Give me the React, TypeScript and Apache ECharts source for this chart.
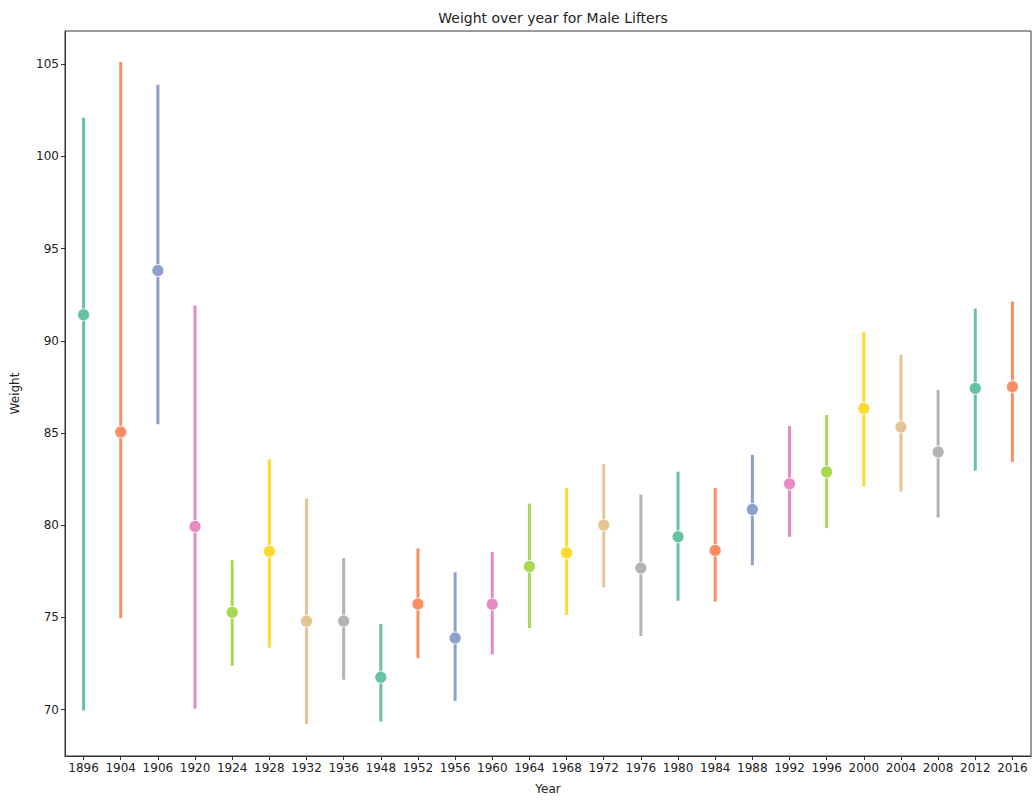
import React, { useEffect, useRef } from "react";
import * as echarts from "echarts";

const years = ["1896","1904","1906","1920","1924","1928","1932","1936","1948","1952","1956","1960","1964","1968","1972","1976","1980","1984","1988","1992","1996","2000","2004","2008","2012","2016"];
const means = [91.41,85.05,93.81,79.93,75.27,78.58,74.79,74.8,71.75,75.72,73.88,75.71,77.76,78.5,80.0,77.67,79.37,78.63,80.85,82.24,82.89,86.33,85.32,83.97,87.42,87.51];
const lows = [69.95,74.95,85.47,70.04,72.37,73.36,69.21,71.62,69.35,72.78,70.47,72.98,74.42,75.14,76.63,73.99,75.9,75.85,77.83,79.37,79.84,82.1,81.82,80.42,82.96,83.43];
const highs = [102.1,105.12,103.89,91.91,78.1,83.57,81.44,78.21,74.64,78.74,77.44,78.54,81.17,82.02,83.32,81.66,82.9,82.02,83.81,85.38,85.97,90.49,89.24,87.33,91.75,92.13];
const yTicks = [70, 75, 80, 85, 90, 95, 100, 105];
const palette = ["#66c2a5","#fc8d62","#8da0cb","#e78ac3","#a6d854","#ffd92f","#e5c494","#b3b3b3"];

export default function App() {
  const ref = useRef<HTMLDivElement>(null);
  useEffect(() => {
    const chart = echarts.init(ref.current!, null, { renderer: "svg" });
    const data = years.map((_, i) => [i, lows[i], highs[i], means[i]]);
    const font = "DejaVu Sans";
    chart.setOption({
      animation: false,
      backgroundColor: "#fff",
      title: {
        text: "Weight over year for Male Lifters",
        left: 548,
        textAlign: "center",
        top: 6,
        textStyle: { fontFamily: font, fontSize: 14, fontWeight: "normal", color: "#222" },
      },
      grid: { left: 65, right: 2, top: 31, bottom: 43, show: true, borderColor: "#333", borderWidth: 1, containLabel: false },
      xAxis: {
        type: "category",
        data: years,
        boundaryGap: true,
        name: "Year",
        nameLocation: "middle",
        nameGap: 27,
        nameTextStyle: { fontFamily: font, fontSize: 12, color: "#222" },
        axisLine: { show: true, lineStyle: { color: "#333", width: 1 } },
        axisTick: { show: true, alignWithLabel: true, length: 4, lineStyle: { color: "#333" } },
        axisLabel: { fontFamily: font, fontSize: 12, color: "#222", margin: 6, interval: 0 },
        splitLine: { show: false },
      },
      yAxis: {
        type: "value",
        min: 67.48,
        max: 106.8,
        name: "Weight",
        nameLocation: "middle",
        nameGap: 44,
        nameTextStyle: { fontFamily: font, fontSize: 12, color: "#222" },
        axisLine: { show: true, lineStyle: { color: "#333", width: 1 } },
        axisTick: { show: true, length: 4, lineStyle: { color: "#333" }, customValues: yTicks },
        axisLabel: { fontFamily: font, fontSize: 12, color: "#222", margin: 6, customValues: yTicks },
        splitLine: { show: false },
      },
      series: [
        {
          type: "custom",
          data,
          encode: { x: 0, y: [1, 2, 3] },
          renderItem: (params: any, api: any) => {
            const x = api.value(0);
            const lo = api.coord([x, api.value(1)]);
            const hi = api.coord([x, api.value(2)]);
            const c = api.coord([x, api.value(3)]);
            const color = palette[params.dataIndex % palette.length];
            return {
              type: "group",
              children: [
                { type: "line", shape: { x1: lo[0], y1: lo[1], x2: hi[0], y2: hi[1] }, style: { stroke: color, lineWidth: 3 } },
                { type: "circle", shape: { cx: c[0], cy: c[1], r: 6 }, style: { fill: color, stroke: "#fff", lineWidth: 0.8 } },
              ],
            };
          },
        },
      ],
    });
    return () => chart.dispose();
  }, []);
  return <div ref={ref} style={{ position: "fixed", left: 0, top: 0, width: 1033, height: 800 }} />;
}
